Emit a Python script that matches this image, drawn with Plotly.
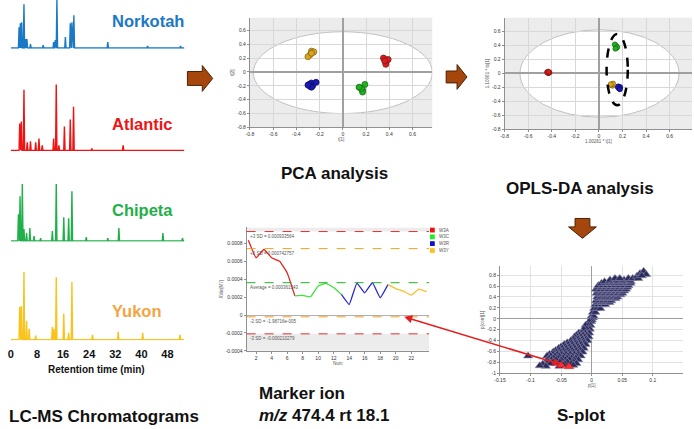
import plotly.graph_objects as go

W, H = 694, 429
def fx(p): return p / W
def fy(p): return 1 - p / H

FONT = "Liberation Sans, Arial, sans-serif"

# ---------------- Chromatogram data (retention time in min, peak height) ----
cultivars = ["Norkotah", "Atlantic", "Chipeta", "Yukon"]
norkotah_rt = [2.5, 2.9, 3.3, 4.0, 4.5, 4.9, 6.0, 9.9, 13.1, 13.6, 14.1, 16.7, 18.2, 18.7, 19.3, 29.7, 41.9, 52.0]
norkotah_h = [21, 25, 26, 44, 9, 9, 4, 3, 6, 8, 49, 11, 25, 26, 33, 6, 2, 2]
atlantic_rt = [2.7, 3.2, 4.0, 5.0, 6.0, 7.6, 8.6, 9.6, 13.1, 13.9, 14.7, 16.4, 18.2, 19.2, 24.8, 34.4]
atlantic_h = [27, 29, 61, 8, 9, 8, 12, 5, 12, 67, 5, 24, 31, 44, 2, 5]
chipeta_rt = [2.3, 2.8, 3.5, 4.0, 4.8, 5.8, 7.1, 9.1, 12.7, 13.9, 16.2, 17.7, 18.7, 23.1, 29.7, 33.1, 46.6, 52.6]
chipeta_h = [27, 45, 58, 12, 8, 13, 5, 3, 10, 58, 24, 23, 50, 4, 3, 13, 8, 3]
yukon_rt = [2.7, 3.2, 4.0, 4.8, 5.6, 7.6, 12.7, 13.2, 13.9, 16.2, 17.7, 18.7, 25.0, 32.9, 40.4, 51.8]
yukon_h = [33, 34, 69, 19, 11, 4, 13, 11, 63, 26, 7, 58, 5, 8, 7, 5]
chrom_ticks = [0, 8, 16, 24, 32, 40, 48]
chrom_line_colors = ["#1b78c6", "#ee1414", "#1fb04a", "#f9c31c"]
chrom_label_colors = ["#1b78c6", "#ee1414", "#1fb04a", "#f5a443"]

# ---------------- PCA scores ----------------
group_names = ["W3A", "W3C", "W3R", "W3Y"]
pca_a_t1 = [0.35, 0.38, 0.37, 0.37, 0.39, 0.36]
pca_a_t2 = [0.20, 0.17, 0.14, 0.11, 0.18, 0.16]
pca_c_t1 = [0.15, 0.17, 0.17, 0.19, 0.16, 0.14]
pca_c_t2 = [-0.23, -0.26, -0.29, -0.18, -0.24, -0.22]
pca_r_t1 = [-0.29, -0.27, -0.26, -0.28, -0.23, -0.27, -0.30]
pca_r_t2 = [-0.18, -0.16, -0.20, -0.21, -0.15, -0.22, -0.19]
pca_y_t1 = [-0.27, -0.26, -0.28, -0.30, -0.25, -0.27]
pca_y_t2 = [0.30, 0.28, 0.25, 0.22, 0.29, 0.27]

# ---------------- OPLS-DA scores ----------------
opls_a_t1 = [-0.435, -0.425, -0.43, -0.42, -0.44, -0.428]
opls_a_to = [0.015, 0.005, 0.0, 0.01, 0.012, 0.02]
opls_c_t1 = [0.14, 0.15, 0.145, 0.135, 0.155, 0.14]
opls_c_to = [0.40, 0.38, 0.36, 0.41, 0.37, 0.35]
opls_r_t1 = [0.165, 0.175, 0.17, 0.18, 0.16, 0.178]
opls_r_to = [-0.19, -0.21, -0.22, -0.20, -0.20, -0.23]
opls_y_t1 = [0.11, 0.115, 0.105, 0.12, 0.10]
opls_y_to = [-0.16, -0.18, -0.17, -0.15, -0.16]

# ---------------- Marker ion trend ----------------
marker_num = list(range(1, 25))
marker_val = [0.000837, 0.00064, 0.000733, 0.00064, 0.000603, 0.000473,
              0.000214, 0.000219, 0.000203, 0.000326, 0.000355, 0.000307,
              0.00023, 0.000118, 0.000358, 0.000248, 0.000362, 0.000193,
              0.00034, 0.000296, 0.000267, 0.000223, 0.00029, 0.000261]
marker_group = ["W3A"] * 6 + ["W3C"] * 6 + ["W3R"] * 6 + ["W3Y"] * 6
sd_plus3 = 0.000933564
sd_plus2 = 0.000742757
sd_avg = 0.000361543
sd_minus2 = -1.98716e-005
sd_minus3 = -0.000210279
marker_yticks = [0.0008, 0.0006, 0.0004, 0.0002, 0, -0.0002, -0.0004]
marker_yticktext = ["0.0008", "0.0006", "0.0004", "0.0002", "0", "-0.0002", "-0.0004"]
marker_xticks = [2, 4, 6, 8, 10, 12, 14, 16, 18, 20, 22]

# ---------------- S-plot (p[1], p(corr)[1]) ----------------
splot_rows = [
    (0.02, [0.0, 0.002]),
    (0.05, [0.0, 0.003]),
    (0.12, [0.002, 0.006]),
    (0.19, [0.004, 0.009, 0.014]),
    (0.26, [0.006, 0.011, 0.017, 0.022]),
    (0.30, [0.010, 0.016, 0.023, 0.029]),
    (0.33, [0.007, 0.013, 0.019, 0.026, 0.032]),
    (0.37, [0.011, 0.018, 0.025, 0.033, 0.039]),
    (0.40, [0.009, 0.015, 0.022, 0.029, 0.036, 0.042]),
    (0.44, [0.012, 0.019, 0.026, 0.033, 0.040, 0.047]),
    (0.47, [0.008, 0.015, 0.022, 0.029, 0.036, 0.043, 0.050]),
    (0.51, [0.011, 0.018, 0.025, 0.032, 0.039, 0.046, 0.053]),
    (0.54, [0.007, 0.014, 0.021, 0.028, 0.035, 0.042, 0.049, 0.056]),
    (0.58, [0.010, 0.017, 0.024, 0.031, 0.038, 0.045, 0.052, 0.058]),
    (0.61, [0.011, 0.018, 0.025, 0.032, 0.039, 0.046, 0.053, 0.060]),
    (0.65, [0.016, 0.023, 0.030, 0.037, 0.044, 0.051, 0.058, 0.063]),
    (0.68, [0.021, 0.028, 0.035, 0.042, 0.050, 0.057, 0.064]),
    (0.71, [0.030, 0.041, 0.053, 0.062]),
    (0.74, [0.038, 0.046, 0.060, 0.067]),
    (-0.02, [-0.001, 0.0]),
    (-0.05, [-0.001, -0.004]),
    (-0.12, [-0.002, -0.006, -0.010]),
    (-0.19, [-0.003, -0.008, -0.013]),
    (-0.26, [-0.004, -0.010, -0.016, -0.021]),
    (-0.30, [-0.008, -0.014, -0.020, -0.025]),
    (-0.33, [-0.005, -0.011, -0.017, -0.023, -0.028]),
    (-0.37, [-0.009, -0.015, -0.022, -0.029]),
    (-0.40, [-0.007, -0.013, -0.020, -0.027, -0.034]),
    (-0.44, [-0.012, -0.019, -0.026, -0.033, -0.040]),
    (-0.47, [-0.010, -0.017, -0.024, -0.031, -0.038, -0.045]),
    (-0.51, [-0.015, -0.022, -0.029, -0.036, -0.043, -0.050]),
    (-0.54, [-0.013, -0.020, -0.027, -0.034, -0.041, -0.048, -0.054]),
    (-0.58, [-0.018, -0.025, -0.032, -0.039, -0.046, -0.053, -0.059]),
    (-0.61, [-0.015, -0.022, -0.029, -0.036, -0.043, -0.050, -0.057, -0.063]),
    (-0.65, [-0.021, -0.028, -0.035, -0.042, -0.049, -0.056, -0.063, -0.069]),
    (-0.68, [-0.018, -0.025, -0.032, -0.039, -0.046, -0.053, -0.060, -0.067, -0.073]),
    (-0.72, [-0.026, -0.033, -0.040, -0.047, -0.055, -0.062, -0.070]),
    (-0.75, [-0.022, -0.029, -0.036, -0.043, -0.050, -0.058, -0.066, -0.072]),
    (-0.79, [-0.030, -0.040, -0.052, -0.063, -0.071]),
    (-0.82, [-0.025, -0.033, -0.044, -0.058, -0.068]),
]
splot_out_p = [0.074, 0.079, 0.085, 0.089, 0.076, 0.082, -0.104, -0.080, -0.075, -0.085, -0.053, -0.047, -0.030]
splot_out_pcorr = [0.78, 0.83, 0.87, 0.81, 0.74, 0.79, -0.68, -0.83, -0.87, -0.86, -0.87, -0.84, -0.85]
splot_marker_p = [-0.037, -0.050]
splot_marker_pcorr = [-0.876, -0.85]

group_colors = {"W3A": "#d62020", "W3C": "#22b022", "W3R": "#1a1ab0", "W3Y": "#d9a520"}
group_edges = {"W3A": "#8a1010", "W3C": "#127012", "W3R": "#0c0c70", "W3Y": "#8a6810"}
line_colors = {"W3A": "#e8231f", "W3C": "#3de43d", "W3R": "#2a2ad0", "W3Y": "#f8c02a"}

fig = go.Figure()

# ---------------- chromatograms ----------------
chrom_data = [(norkotah_rt, norkotah_h), (atlantic_rt, atlantic_h),
              (chipeta_rt, chipeta_h), (yukon_rt, yukon_h)]
chrom_dom_px = [(0, 49), (85, 152), (185.3, 243.3), (273.7, 342.7)]
yids = ["y", "y2", "y3", "y4"]
for i, (rts, hs) in enumerate(chrom_data):
    base = 0.6
    xs, ys = [0.0], [base]
    for t, h in sorted(zip(rts, hs)):
        xs += [t - 0.2, t, t + 0.2]
        ys += [base, base + h, base]
    xs.append(53.2)
    ys.append(base)
    fig.add_trace(go.Scatter(x=xs, y=ys, mode="lines", xaxis="x", yaxis=yids[i],
                             line=dict(color=chrom_line_colors[i], width=1.4),
                             showlegend=False, hoverinfo="skip"))

# ---------------- PCA ----------------
pca = {"W3A": (pca_a_t1, pca_a_t2), "W3C": (pca_c_t1, pca_c_t2),
       "W3R": (pca_r_t1, pca_r_t2), "W3Y": (pca_y_t1, pca_y_t2)}
for g, (a, b) in pca.items():
    fig.add_trace(go.Scatter(x=a, y=b, mode="markers", xaxis="x2", yaxis="y5",
                             marker=dict(size=6, color=group_colors[g],
                                         line=dict(color=group_edges[g], width=0.8)),
                             showlegend=False))

# ---------------- OPLS-DA ----------------
opls = {"W3A": (opls_a_t1, opls_a_to), "W3C": (opls_c_t1, opls_c_to),
        "W3R": (opls_r_t1, opls_r_to), "W3Y": (opls_y_t1, opls_y_to)}
for g, (a, b) in opls.items():
    fig.add_trace(go.Scatter(x=a, y=b, mode="markers", xaxis="x3", yaxis="y6",
                             marker=dict(size=5, color=group_colors[g],
                                         line=dict(color=group_edges[g], width=0.8)),
                             showlegend=False))

# ---------------- marker ion trend ----------------
for gi, g in enumerate(group_names):
    idx = [k for k, gg in enumerate(marker_group) if gg == g]
    if gi < len(group_names) - 1:
        idx = idx + [idx[-1] + 1]
    fig.add_trace(go.Scatter(x=[marker_num[k] for k in idx], y=[marker_val[k] for k in idx],
                             mode="lines", xaxis="x4", yaxis="y7",
                             line=dict(color=line_colors[g], width=1.3, shape="spline", smoothing=0.3),
                             showlegend=False))

# ---------------- S-plot ----------------
sp_p, sp_c = [], []
for pc, plist in splot_rows:
    for p in plist:
        sp_p.append(p)
        sp_c.append(pc)
sp_p += splot_out_p
sp_c += splot_out_pcorr
fig.add_trace(go.Scatter(x=sp_p, y=sp_c, mode="markers", xaxis="x5", yaxis="y8",
                         marker=dict(symbol="triangle-up", size=8, color="#2d2d5c",
                                     line=dict(color="#8a8ab0", width=0.6)),
                         showlegend=False))
fig.add_trace(go.Scatter(x=splot_marker_p, y=splot_marker_pcorr, mode="markers", xaxis="x5", yaxis="y8",
                         marker=dict(symbol="triangle-up", size=8, color="#ff3030",
                                     line=dict(color="#c01010", width=0.6)),
                         showlegend=False))

tickf = dict(family=FONT, size=5, color="#333333")
titlef = dict(family=FONT, size=4.5, color="#555555")

layout = dict(
    width=W, height=H, margin=dict(l=0, r=0, t=0, b=0),
    paper_bgcolor="white", plot_bgcolor="rgba(0,0,0,0)",
    showlegend=False, font=dict(family=FONT),
    xaxis=dict(domain=[fx(2), fx(180)], range=[-0.9, 53.2], anchor="y4",
               tickvals=chrom_ticks, showgrid=False, zeroline=False, showline=False,
               ticks="", ticklabelstandoff=6,
               tickfont=dict(family=FONT, size=11, color="#111111", weight="bold")),
)
for i, yid in enumerate(yids):
    top, base = chrom_dom_px[i]
    key = "yaxis" if i == 0 else "yaxis%d" % (i + 1)
    layout[key] = dict(domain=[fy(base), fy(top)], range=[0, base - top], anchor="x",
                       visible=False, showgrid=False, zeroline=False)

def score_axes(xd, yd, xr, yr, xtitle, ytitle, anchor_x, anchor_y):
    ax = dict(domain=[fx(xd[0]), fx(xd[1])], range=xr, anchor=anchor_y,
              tickvals=[-0.8, -0.6, -0.4, -0.2, 0, 0.2, 0.4, 0.6],
              ticktext=["-0.8", "-0.6", "-0.4", "-0.2", "0", "0.2", "0.4", "0.6"],
              showgrid=True, gridcolor="#d8d8d8", gridwidth=0.6,
              zeroline=True, zerolinecolor="#a0a0a0", zerolinewidth=1.5,
              showline=True, linecolor="#909090", linewidth=1, ticks="outside",
              ticklen=2, tickcolor="#909090", tickfont=tickf,
              title=dict(text=xtitle, font=titlef, standoff=1))
    ay = dict(domain=[fy(yd[1]), fy(yd[0])], range=yr, anchor=anchor_x,
              tickvals=[-0.8, -0.6, -0.4, -0.2, 0, 0.2, 0.4, 0.6],
              ticktext=["-0.8", "-0.6", "-0.4", "-0.2", "0", "0.2", "0.4", "0.6"],
              showgrid=True, gridcolor="#d8d8d8", gridwidth=0.6,
              zeroline=True, zerolinecolor="#a0a0a0", zerolinewidth=1.5,
              showline=True, linecolor="#909090", linewidth=1, ticks="outside",
              ticklen=2, tickcolor="#909090", tickfont=tickf,
              title=dict(text=ytitle, font=titlef, standoff=2))
    return ax, ay

layout["xaxis2"], layout["yaxis5"] = score_axes((246, 430), (18, 128.3), [-0.8, 0.77], [-0.8, 0.78],
                                                "t[1]", "t[2]", "x2", "y5")
layout["xaxis3"], layout["yaxis6"] = score_axes((503, 692), (18, 130), [-0.8, 0.79], [-0.8, 0.79],
                                                "1.00261 * t[1]", "1.10661 * to[1]", "x3", "y6")

layout["xaxis4"] = dict(domain=[fx(242.7), fx(426.7)], range=[0.77, 24.3], anchor="y7",
                        tickvals=marker_xticks, showgrid=False, zeroline=False,
                        showline=True, linecolor="#909090", linewidth=1, ticks="outside",
                        ticklen=2, tickcolor="#909090", tickfont=tickf,
                        title=dict(text="Num", font=titlef, standoff=1))
layout["yaxis7"] = dict(domain=[fy(353.3), fy(229)], range=[-0.0004, 0.00098], anchor="x4",
                        tickvals=marker_yticks, ticktext=marker_yticktext,
                        showgrid=False, zeroline=True, zerolinecolor="#b0b0b0", zerolinewidth=1,
                        showline=True, linecolor="#909090", linewidth=1, ticks="outside",
                        ticklen=2, tickcolor="#909090", tickfont=tickf,
                        title=dict(text="XVar(M7)", font=titlef, standoff=2))

layout["xaxis5"] = dict(domain=[fx(498.3), fx(683.3)], range=[-0.15, 0.15], anchor="y8",
                        tickvals=[-0.15, -0.1, -0.05, 0, 0.05, 0.1],
                        ticktext=["-0.15", "-0.1", "-0.05", "0", "0.05", "0.1"],
                        showgrid=True, gridcolor="#e2e2e2", gridwidth=0.6,
                        zeroline=True, zerolinecolor="#a0a0a0", zerolinewidth=1.2,
                        showline=True, linecolor="#909090", linewidth=1, ticks="outside",
                        ticklen=2, tickcolor="#909090", tickfont=tickf,
                        title=dict(text="p[1]", font=titlef, standoff=1))
layout["yaxis8"] = dict(domain=[fy(376), fy(268.3)], range=[-1, 0.96], anchor="x5",
                        tickvals=[-1, -0.8, -0.6, -0.4, -0.2, 0, 0.2, 0.4, 0.6, 0.8],
                        ticktext=["-1", "-0.8", "-0.6", "-0.4", "-0.2", "0", "0.2", "0.4", "0.6", "0.8"],
                        showgrid=True, gridcolor="#e2e2e2", gridwidth=0.6,
                        zeroline=True, zerolinecolor="#a0a0a0", zerolinewidth=1.2,
                        showline=True, linecolor="#909090", linewidth=1, ticks="outside",
                        ticklen=2, tickcolor="#909090", tickfont=tickf,
                        title=dict(text="p(corr)[1]", font=titlef, standoff=2))

shapes = []
for xr, yr, ell in [("x2", "y5", (-0.77, 0.77, -0.6, 0.58)), ("x3", "y6", (-0.67, 0.68, -0.63, 0.62))]:
    shapes.append(dict(type="rect", xref=xr + " domain", yref=yr + " domain", x0=0, x1=1, y0=0, y1=1,
                       fillcolor="#ececec", line=dict(width=0), layer="below"))
    shapes.append(dict(type="circle", xref=xr, yref=yr, x0=ell[0], x1=ell[1], y0=ell[2], y1=ell[3],
                       fillcolor="white", line=dict(color="#c0c0c0", width=1), layer="below"))
shapes.append(dict(type="circle", xref="x3", yref="y6", x0=0.065, x1=0.245, y0=-0.46, y1=0.56,
                   line=dict(color="black", width=2.5, dash="dash")))
shapes.append(dict(type="rect", xref="x4 domain", yref="y7", x0=0, x1=1, y0=sd_plus3, y1=0.00098,
                   fillcolor="#ececec", line=dict(width=0), layer="below"))
shapes.append(dict(type="rect", xref="x4 domain", yref="y7", x0=0, x1=1, y0=-0.0004, y1=sd_minus3,
                   fillcolor="#ececec", line=dict(width=0), layer="below"))
sd_lines = [(sd_plus3, "#e03030", "+3 SD = 0.000933564"),
            (sd_plus2, "#f0a020", "+2 SD = 0.000742757"),
            (sd_avg, "#20b020", "Average = 0.000361543"),
            (sd_minus2, "#f0a020", "-2 SD = -1.98716e-005"),
            (sd_minus3, "#e03030", "-3 SD = -0.000210279")]
annotations = []
for val, col, txt in sd_lines:
    shapes.append(dict(type="line", xref="x4 domain", yref="y7", x0=0, x1=1, y0=val, y1=val,
                       line=dict(color=col, width=1, dash="dash")))
    annotations.append(dict(xref="x4 domain", yref="y7", x=0.01, y=val, text=txt, showarrow=False,
                            xanchor="left", yanchor="top", yshift=-0.5,
                            font=dict(family=FONT, size=4.5, color="#555555")))
leg_cols = ["#ee1111", "#22ee22", "#1111cc", "#ffc020"]
leg_y = [231.7, 238.5, 245.3, 252.3]
for g, c, yy in zip(group_names, leg_cols, leg_y):
    shapes.append(dict(type="rect", xref="paper", yref="paper", x0=fx(427.7), x1=fx(432.5),
                       y0=fy(yy + 2.4), y1=fy(yy - 2.4), fillcolor=c, line=dict(width=0)))
    annotations.append(dict(xref="paper", yref="paper", x=fx(434.5), y=fy(yy), text=g, showarrow=False,
                            xanchor="left", yanchor="middle",
                            font=dict(family=FONT, size=4.5, color="#555555")))

def path(pts):
    return "M " + " L ".join("%.5f,%.5f" % (fx(a), fy(b)) for a, b in pts) + " Z"
arrow_fill, arrow_edge = "#a5470d", "#4a2006"
for pts in [
    [(183, 72), (198, 72), (198, 66), (208.5, 79), (198, 92), (198, 86), (183, 86)],
    [(444, 71.5), (455, 71.5), (455, 65), (465, 77.5), (455, 90), (455, 83.5), (444, 83.5)],
    [(574, 220), (589, 220), (589, 228.5), (595.5, 228.5), (581.5, 240), (567.5, 228.5), (574, 228.5)],
]:
    shapes.append(dict(type="path", xref="paper", yref="paper", path=path(pts),
                       fillcolor=arrow_fill, line=dict(color=arrow_edge, width=1)))

label_y = [21, 125, 211.7, 313.3]
for name, col, yy in zip(cultivars, chrom_label_colors, label_y):
    annotations.append(dict(xref="paper", yref="paper", x=fx(105), y=fy(yy), text="<b>%s</b>" % name,
                            showarrow=False, xanchor="left", yanchor="middle",
                            font=dict(family=FONT, size=16.5, color=col)))

big = dict(family=FONT, size=17, color="#111111")
annotations += [
    dict(xref="paper", yref="paper", x=fx(91.7), y=fy(371.7), text="<b>Retention time (min)</b>",
         showarrow=False, xanchor="center", yanchor="middle",
         font=dict(family=FONT, size=10, color="#111111")),
    dict(xref="paper", yref="paper", x=fx(1), y=fy(419), text="<b>LC-MS Chromatograms</b>",
         showarrow=False, xanchor="left", yanchor="middle", font=big),
    dict(xref="paper", yref="paper", x=fx(331), y=fy(175), text="<b>PCA analysis</b>",
         showarrow=False, xanchor="center", yanchor="middle", font=big),
    dict(xref="paper", yref="paper", x=fx(579), y=fy(190), text="<b>OPLS-DA analysis</b>",
         showarrow=False, xanchor="center", yanchor="middle", font=big),
    dict(xref="paper", yref="paper", x=fx(253), y=fy(396.7), text="<b>Marker ion</b>",
         showarrow=False, xanchor="left", yanchor="middle", font=big),
    dict(xref="paper", yref="paper", x=fx(253), y=fy(418), text="<b><i>m/z</i> 474.4 rt 18.1</b>",
         showarrow=False, xanchor="left", yanchor="middle", font=big),
    dict(xref="paper", yref="paper", x=fx(580), y=fy(418), text="<b>S-plot</b>",
         showarrow=False, xanchor="center", yanchor="middle", font=big),
    dict(xref="x4", yref="y7", x=21.1, y=sd_minus2, ax=158, ay=48, axref="pixel", ayref="pixel",
         text="", showarrow=True, arrowhead=2, startarrowhead=2, arrowside="end+start",
         arrowsize=1, startarrowsize=1, arrowwidth=1.6, arrowcolor="#e81c1c"),
]
layout["shapes"] = shapes
layout["annotations"] = annotations
fig.update_layout(**layout)
fig.write_html("out.html", config={"displayModeBar": False},
               post_script="document.body.style.margin='0';document.body.style.padding='0';"
                           "document.body.style.overflow='hidden';")
